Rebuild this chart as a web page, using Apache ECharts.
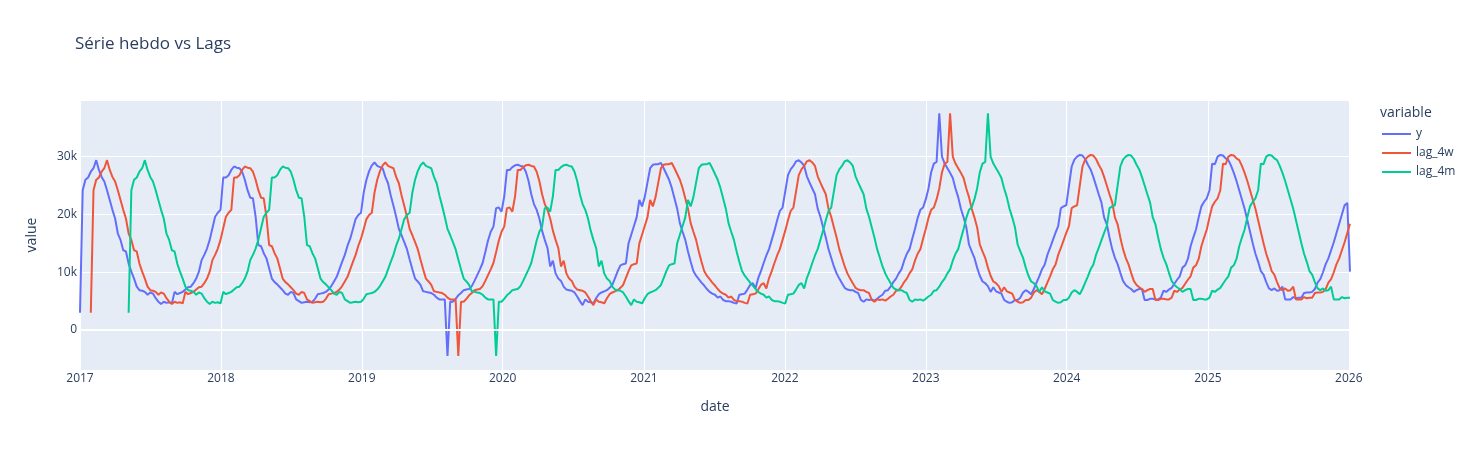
<!DOCTYPE html>
<html><head><meta charset="utf-8">
<script src="https://cdn.jsdelivr.net/npm/echarts@6/dist/echarts.min.js"></script>
<style>html,body{margin:0;padding:0;background:#fff}#c{width:1478px;height:450px}</style>
</head><body><div id="c"></div>
<script>
// weekly series, first week 2017-01-01
const startYear = 2017;
const seriesNames = ['y', 'lag_4w', 'lag_4m'];
const lagWeeks = [0, 4, 18];
const yTicks = [0, 10000, 20000, 30000];
const y = [
3000,24200,26000,26400,27400,28000,29400,27700,26500,25700,
24200,22500,20800,19300,16700,15600,13800,13600,11500,10100,
8900,7500,6900,6800,6600,6100,6500,6300,5500,4900,
4500,4900,4700,4800,4600,6600,6200,6400,6600,7000,
7400,7500,8100,8900,10100,12100,13000,14100,15600,17600,
19600,20300,20800,26400,26400,26800,27700,28300,28100,28000,
27400,26000,24200,22900,22800,19600,14700,14500,13300,12400,
10700,8900,8300,7900,7400,6900,6300,6100,6600,6400,
5300,5000,4700,4800,4900,4800,4900,5400,6200,6300,
6400,6600,7000,7600,8400,9200,10500,11800,13000,14600,
15800,17500,19200,19900,20300,23800,26000,27500,28500,29000,
28400,28200,28000,26500,25400,23300,21500,19600,17500,16400,
15200,14000,12200,10500,8900,8400,7800,6700,6600,6500,
6400,6100,5600,5300,5300,5300,-4500,4900,4900,5400,
6000,6400,6900,7000,7100,7600,8500,9500,10500,11600,
13500,15500,17000,17900,21100,21200,20500,23100,27700,27700,
28200,28500,28600,28400,28300,27400,25800,23500,21800,20800,
19300,17200,15600,14200,11000,12000,9800,8900,8500,7500,
7000,6900,6800,6500,5800,5000,4300,5300,4900,4800,
4600,5500,6200,6500,6700,6900,7300,7800,9000,10200,
11200,11400,11500,15000,16500,18000,19500,22500,21400,23000,
25500,28000,28600,28700,28700,28900,28000,27000,26000,24600,
22800,21000,18500,17000,15600,13600,11800,10200,9400,8800,
8200,7700,7100,6600,6300,6100,5600,5800,5200,5000,
5000,4900,4700,4600,6100,6200,6300,7000,7800,8100,
7200,9000,10200,11600,12900,14000,15600,17200,19000,20600,
21200,24000,26800,27800,28400,29200,29400,29000,28400,26600,
25500,24500,23500,21000,19600,17800,16000,14000,12500,11000,
9800,8900,8100,7300,7000,6900,6900,6600,6400,5200,
4900,5300,5200,5300,5100,5400,5800,6100,6800,6900,
7500,8300,8900,9800,10500,12000,13200,14000,15800,17500,
19400,20800,21200,22600,24500,27300,28800,29100,37500,30000,
28800,28000,27200,26300,24500,23000,21000,19500,17800,14800,
13600,12500,10800,9400,8400,8100,7600,6600,7400,6700,
6500,6300,5200,4900,4700,4800,5200,5200,5600,6500,
6900,6600,6200,7100,8200,9300,10500,11300,13000,14200,
15500,16800,18000,21100,21400,21600,25000,28300,29500,30000,
30300,30200,29600,28600,27800,26500,25000,23500,22100,19500,
18300,16000,14000,12500,11400,9900,8500,7800,7400,7100,
6600,6900,7100,7100,5200,5200,5400,5400,5300,5300,
5600,6800,6600,7000,7300,8000,8700,9300,10800,11200,
12300,14500,16000,17400,19500,21400,22200,22800,24200,28800,
28700,30000,30300,30200,29700,29400,28400,27200,25800,24200,
22600,21000,19000,17000,15000,13200,11800,10200,9600,8300,
7200,6900,7200,6800,6900,7500,5300,5300,5300,5700,
5500,5600,5600,6400,6500,6500,6600,7100,8200,8800,
10000,11400,12400,13800,15200,16800,18400,20000,21600,22000,
10100
];

const WEEK = 7 * 86400000;
const t0 = Date.UTC(startYear, 0, 1);
const dates = y.map((_, i) => t0 + i * WEEK);
const seriesData = lagWeeks.map(l => dates.map((d, i) => [d, i >= l ? y[i - l] : null]));

const colors = ['#636efa', '#EF553B', '#00cc96'];
const txt = '#2a3f5f';
const FONT = '"Open Sans", verdana, arial, sans-serif';

const chart = echarts.init(document.getElementById('c'), null, {renderer: 'canvas'});
chart.setOption({
  useUTC: true,
  animation: false,
  backgroundColor: '#fff',
  textStyle: {fontFamily: FONT, color: txt},
  title: [
    {text: 'Série hebdo vs Lags', left: 75, top: 36, padding: 0,
     textStyle: {fontFamily: FONT, fontSize: 17, fontWeight: 'normal', color: txt}},
    {text: 'variable', left: 1380, top: 106, padding: 0,
     textStyle: {fontFamily: FONT, fontSize: 14, fontWeight: 'normal', color: txt}}
  ],
  legend: {
    data: seriesNames, orient: 'vertical', left: 1377, top: 123,
    icon: 'rect', itemWidth: 29, itemHeight: 2, itemGap: 7,
    textStyle: {fontFamily: FONT, fontSize: 12, color: txt}
  },
  grid: {left: 80, right: 128, top: 100, bottom: 80, containLabel: false,
         backgroundColor: '#E5ECF6', show: true, borderWidth: 0},
  xAxis: {
    type: 'time', min: dates[0], max: dates[dates.length - 1],
    minInterval: 365 * 86400000, maxInterval: 366 * 86400000,
    name: 'date', nameLocation: 'middle', nameGap: 30,
    nameTextStyle: {fontFamily: FONT, fontSize: 14, color: txt},
    axisLine: {show: false}, axisTick: {show: false},
    axisLabel: {formatter: '{yyyy}', fontFamily: FONT, fontSize: 12, color: txt, margin: 3,
                showMaxLabel: false},
    splitLine: {show: true, lineStyle: {color: '#fff', width: 1}}
  },
  yAxis: {
    type: 'value', min: -6920, max: 39810, splitNumber: 5,
    name: 'value', nameLocation: 'middle', nameGap: 41, nameRotate: 90,
    nameTextStyle: {fontFamily: FONT, fontSize: 14, color: txt},
    axisLine: {show: false}, axisTick: {show: false},
    axisLabel: {showMinLabel: false, showMaxLabel: false, fontFamily: FONT, fontSize: 12, color: txt, margin: 3,
      formatter: v => yTicks.includes(v) ? (v === 0 ? '0' : (v / 1000) + 'k') : ''},
    splitLine: {show: true, lineStyle: {color: '#fff', width: 1}}
  },
  series: [
    {type: 'line', name: '_zero', data: [], z: 1, silent: true,
     markLine: {silent: true, symbol: 'none', label: {show: false},
       lineStyle: {color: '#fff', width: 2, type: 'solid'}, data: [{yAxis: 0}]}}
  ].concat(seriesNames.map((n, k) => ({
    type: 'line', name: n, data: seriesData[k], showSymbol: false, symbol: 'none',
    connectNulls: false, lineStyle: {width: 2, color: colors[k]}, itemStyle: {color: colors[k]},
    emphasis: {disabled: true}
  })))
});
</script></body></html>
